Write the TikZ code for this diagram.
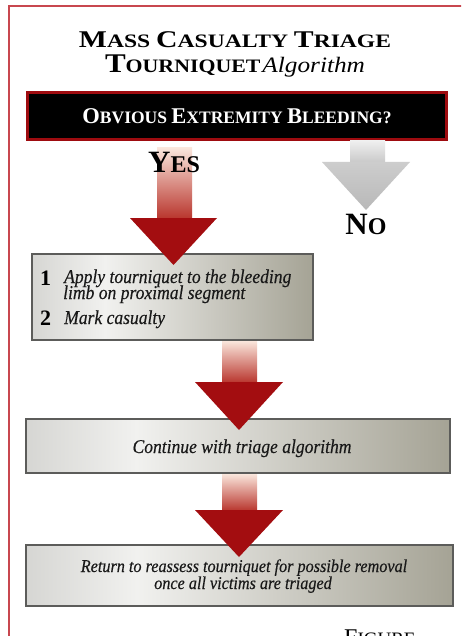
\documentclass[tikz,border=0pt]{standalone}
\usepackage{fontspec}
\setmainfont{Liberation Serif}
\newfontfamily\semiit{Liberation Serif}[UprightFont={* Italic}, FakeBold=0.35, FakeStretch=0.9]
\definecolor{framered}{HTML}{C8474F}
\definecolor{qborder}{HTML}{9E0B0F}
\definecolor{headred}{HTML}{A30D10}
\definecolor{shafttop}{HTML}{FAE6DC}
\definecolor{shaftbot}{HTML}{B8342C}
\definecolor{graytop}{HTML}{EFEFEF}
\definecolor{graybot}{HTML}{C8C8C8}
\definecolor{grayhead}{HTML}{CDCDCD}
\definecolor{grayheadtip}{HTML}{B8B8B8}
\definecolor{boxborder}{HTML}{5C5C5A}
\definecolor{boxL}{HTML}{D6D6D3}
\definecolor{boxM}{HTML}{F1F1EF}
\definecolor{boxR}{HTML}{A5A395}
\pgfdeclarehorizontalshading{boxshade}{100bp}{color(0bp)=(boxL); color(25bp)=(boxL); color(38bp)=(boxM); color(75bp)=(boxR); color(100bp)=(boxR)}
\newcommand\smcap[2]{{\fontsize{#1}{#1}\selectfont #2}}
\tikzset{
  stepbox/.style={draw=boxborder, line width=1.2pt, shading=boxshade, inner sep=0pt},
  itext/.style={font=\semiit\fontsize{19.5}{19.5}\selectfont, inner sep=0pt, text=black!90},
  numtext/.style={font=\bfseries\fontsize{22}{22}\selectfont, inner sep=0pt},
  redshaft/.style={top color=shafttop, bottom color=shaftbot, draw=none},
  redhead/.style={fill=headred, draw=none},
}
\begin{document}
\begin{tikzpicture}[x=1pt,y=-1pt]
\useasboundingbox (0,0) rectangle (461,636);
\clip (0,0) rectangle (461,636);
\fill[white] (0,0) rectangle (461,636);
% frame
\draw[framered, line width=2pt] (9,660) -- (9,6) -- (470,6);
% title
\node[anchor=base, inner sep=0pt, font=\bfseries] (title1) at (235,48)
  {\scalebox{1.24}[1]{\smcap{24}{M}\smcap{19}{ASS }\smcap{24}{C}\smcap{19}{ASUALTY }\smcap{24}{T}\smcap{19}{RIAGE}}};
\node[anchor=base, inner sep=0pt, font=\bfseries] (title2) at (235,73)
  {\scalebox{1.15}[1]{\smcap{27}{T}\smcap{19}{OURNIQUET}\,{\mdseries\itshape\fontsize{22}{22}\selectfont Algorithm}}};
% question box
\node[draw=qborder, line width=2.5pt, fill=black, minimum width=419, minimum height=47, inner sep=0pt, text=white, font=\bfseries] (q) at (237,116)
  {\smcap{22.5}{O}\smcap{17.5}{BVIOUS }\smcap{22.5}{E}\smcap{17.5}{XTREMITY }\smcap{22.5}{B}\smcap{17.5}{LEEDING?}};
% gray NO arrow
\shade[top color=graytop, bottom color=graybot] (350,141) rectangle (385,163);
\shade[top color=grayhead, bottom color=grayheadtip] (322,162) -- (410,162) -- (366,210) -- cycle;
\node[anchor=base, inner sep=0pt, font=\bfseries] (no) at (366,234) {\smcap{31}{N}\smcap{24}{O}};
% boxes
\node[stepbox, minimum width=281, minimum height=86] (b1) at (172.5,297) {};
\node[stepbox, minimum width=424, minimum height=54] (b2) at (238,446) {};
\node[stepbox, minimum width=427, minimum height=61] (b3) at (239.5,575.5) {};
% red arrow 1
\shade[redshaft] (157,148) rectangle (192,219);
\fill[redhead] (130,218) -- (217,218) -- (173.5,265) -- cycle;
\node[anchor=base, inner sep=0pt, font=\bfseries] (yes) at (174,173) {\smcap{31}{Y}\smcap{24}{ES}};
% red arrow 2
\shade[redshaft] (222,341) rectangle (257,383);
\fill[redhead] (195,382) -- (283,382) -- (239,430) -- cycle;
% red arrow 3
\shade[redshaft] (222,474) rectangle (257,511);
\fill[redhead] (195,510) -- (283,510) -- (239,557) -- cycle;
% box 1 text
\node[numtext, anchor=base west] (n1) at (40,285) {1};
\node[itext, anchor=base west] (t1a) at (64,283) {Apply tourniquet to the bleeding};
\node[itext, anchor=base west] (t1b) at (63,299) {limb on proximal segment};
\node[numtext, anchor=base west] (n2) at (40,325) {2};
\node[itext, anchor=base west] (t1c) at (64,324) {Mark casualty};
% box 2 text
\node[itext, anchor=base] (t2) at (242,453) {Continue with triage algorithm};
% box 3 text
\node[itext, anchor=base, font=\semiit\fontsize{18}{18}\selectfont] (t3a) at (244,572) {Return to reassess tourniquet for possible removal};
\node[itext, anchor=base, font=\semiit\fontsize{18}{18}\selectfont] (t3b) at (243,589) {once all victims are triaged};
% figure caption (cut off)
\node[anchor=north west, inner sep=0pt, font=\fontsize{24}{24}\selectfont] (fig) at (344,630) {F\smcap{19}{IGURE}};
\end{tikzpicture}
\end{document}
